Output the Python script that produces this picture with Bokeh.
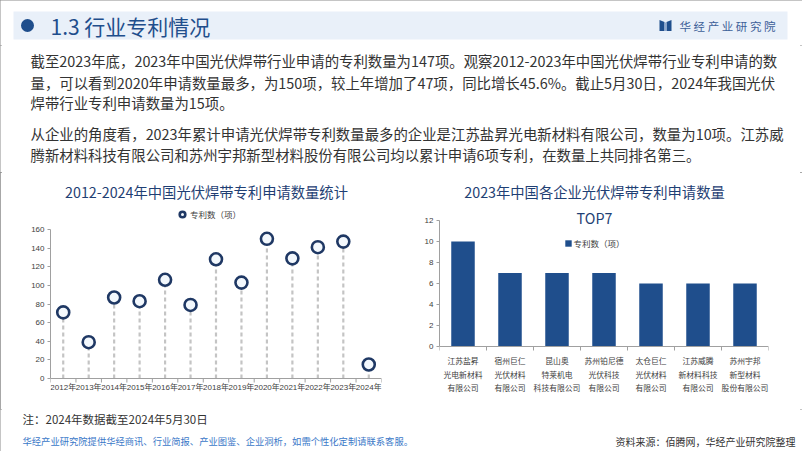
from bokeh.plotting import figure
from bokeh.models import Range1d, FactorRange, Label, Legend, LegendItem, FixedTicker
from bokeh.layouts import column, row
from bokeh.embed import file_html
from bokeh.resources import INLINE
from bokeh.core.properties import value

# ---------------- data ----------------
years = ["2012年", "2013年", "2014年", "2015年", "2016年", "2017年", "2018年",
         "2019年", "2020年", "2021年", "2022年", "2023年", "2024年"]
patents = [71, 39, 87, 83, 106, 79, 128, 103, 150, 129, 141, 147, 15]
year_ticks = [0, 20, 40, 60, 80, 100, 120, 140, 160]

companies = ["江苏盐昇光电新材料有限公司", "宿州巨仁光伏材料有限公司", "昆山奥特莱机电科技有限公司",
             "苏州铂尼德光伏科技有限公司", "太仓巨仁光伏材料有限公司", "江苏威腾新材料科技有限公司",
             "苏州宇邦新型材料股份有限公司"]
label_line1 = ["江苏盐昇", "宿州巨仁", "昆山奥", "苏州铂尼德", "太仓巨仁", "江苏威腾", "苏州宇邦"]
label_line2 = ["光电新材料", "光伏材料", "特莱机电", "光伏科技", "光伏材料", "新材料科技", "新型材料"]
label_line3 = ["有限公司", "有限公司", "科技有限公司", "有限公司", "有限公司", "有限公司", "股份有限公司"]
company_patents = [10, 7, 7, 7, 6, 6, 6]
company_ticks = [0, 2, 4, 6, 8, 10, 12]

header_title = "1.3 行业专利情况"
logo_text = "华 经 产 业 研 究 院"
paragraphs = [
    "截至2023年底，2023年中国光伏焊带行业申请的专利数量为147项。观察2012-2023年中国光伏焊带行业专利申请的数",
    "量，可以看到2020年申请数量最多，为150项，较上年增加了47项，同比增长45.6%。截止5月30日，2024年我国光伏",
    "焊带行业专利申请数量为15项。",
    "从企业的角度看，2023年累计申请光伏焊带专利数量最多的企业是江苏盐昇光电新材料有限公司，数量为10项。江苏威",
    "腾新材料科技有限公司和苏州宇邦新型材料股份有限公司均以累计申请6项专利，在数量上共同排名第三。",
]
left_title = "2012-2024年中国光伏焊带专利申请数量统计"
right_title_1 = "2023年中国各企业光伏焊带专利申请数量"
right_title_2 = "TOP7"
legend_label = "专利数（项）"
note_text = "注：2024年数据截至2024年5月30日"
footer_left = "华经产业研究院提供华经商讯、行业简报、产业图鉴、企业洞析，如需个性化定制请联系客服。"
footer_right = "资料来源：佰腾网，华经产业研究院整理"

CJK = "Noto Sans CJK SC"
NUM = "'Liberation Sans', 'Noto Sans CJK SC'"
BLUE = "#1f4e8c"
NAVY = "#1f3f74"
TXT = "#333333"
AXIS = "#a0a0a0"


def deco(x0, x1, y0, y1):
    f = figure(width=x1 - x0, height=y1 - y0, x_range=Range1d(x0, x1), y_range=Range1d(y1, y0),
               output_backend="svg", toolbar_location=None, x_axis_type=None, y_axis_type=None,
               min_border=0)
    f.grid.visible = False
    f.outline_line_color = None
    f.background_fill_color = "white"
    f.border_fill_color = "white"
    return f


def boundary_ticks(p, factors, k):
    # small category-boundary ticks below the axis line (like the original's category axis)
    xs = [(f, -0.5) for f in factors] + [(factors[-1], 0.5)]
    p.segment(x0=xs, y0=[0] * len(xs), x1=xs, y1=[-4 / k] * len(xs), line_color=AXIS, line_width=1)


# ---------------- header ----------------
hdr = deco(0, 802, 0, 45)
hdr.quad(left=[13], right=[787], top=[11], bottom=[39], fill_color="#e9f0f9", line_color=None)
hdr.circle(x=[27], y=[25], radius=6.5, fill_color=BLUE, line_color=None)
hdr.text(x=[50], y=[25], text=[header_title], text_font=value(CJK), text_font_size="21px",
         text_color=BLUE, text_baseline="middle", text_align="left")
hdr.patches(xs=[[659, 664, 664, 659], [666, 671, 671, 666]],
            ys=[[19.5, 21.5, 30.5, 30.5], [21.5, 19.5, 30.5, 30.5]],
            fill_color=BLUE, line_color=None)
hdr.quad(left=[664], right=[666], top=[22], bottom=[30.5], fill_color="#8fa9cf", line_color=None)
hdr.text(x=[679], y=[25.5], text=[logo_text], text_font=value(CJK), text_font_size="11.5px",
         text_color="#3d5f98", text_baseline="middle", text_align="left")

# ---------------- paragraphs ----------------
txt = deco(0, 802, 45, 172)
txt.text(x=[30] * 5, y=[60, 81.5, 101.5, 132.5, 153.5], text=paragraphs, text_font=value(CJK),
         text_font_size="14.4px", text_color=TXT, text_baseline="middle", text_align="left")

# ---------------- chart geometry (page pixels) ----------------
CH_TOP, CH_BOT = 172, 409
FB = 393                      # frame bottom (both charts, aligned)
L_ZERO, L_TOP, L_MAX = 378, 229, 160
R_ZERO, R_TOP, R_MAX = 346, 220, 12
lk = (L_ZERO - L_TOP) / L_MAX
rk = (R_ZERO - R_TOP) / R_MAX

# ---------------- left chart ----------------
lp = figure(width=405, height=CH_BOT - CH_TOP, x_range=FactorRange(*years),
            y_range=Range1d(-(FB - L_ZERO) / lk, (L_ZERO - CH_TOP) / lk),
            output_backend="svg", toolbar_location=None,
            min_border_left=50, min_border_right=24, min_border_top=0,
            min_border_bottom=CH_BOT - FB)
lp.grid.visible = False
lp.outline_line_color = None
lp.segment(x0=years, y0=[0] * len(years), x1=years, y1=patents, line_color="#c4c4c4",
           line_width=2.2, line_dash="4 3")
boundary_ticks(lp, years, lk)
sc = lp.scatter(x=years, y=patents, size=12, fill_color="#f3f8fd", line_color="#1f3864",
                line_width=2.6)
lp.yaxis.ticker = FixedTicker(ticks=year_ticks)
lp.yaxis.bounds = (0, L_MAX)
lp.xaxis.fixed_location = 0
for ax in (lp.xaxis, lp.yaxis):
    ax.axis_line_color = AXIS
    ax.major_tick_line_color = AXIS
    ax.minor_tick_line_color = None
    ax.major_label_text_font = NUM
    ax.major_label_text_font_size = "8px"
    ax.major_label_text_color = "#404040"
lp.yaxis.major_tick_out = 3
lp.yaxis.major_tick_in = 0
lp.yaxis.major_label_standoff = 3
lp.xaxis.major_tick_line_color = None
lp.xaxis.major_tick_out = 0
lp.xaxis.major_tick_in = 0
lp.xaxis.major_label_standoff = 4
lp.add_layout(Label(x=206 - 50, y=FB - 191, x_units="screen", y_units="screen", text=left_title,
                    text_font=CJK, text_font_size="14.3px", text_color=NAVY,
                    text_align="center", text_baseline="middle"))
leg_l = Legend(items=[LegendItem(label=legend_label, renderers=[sc])], location=(175 - 50, FB - 221),
               glyph_width=14, glyph_height=14, label_standoff=1, padding=0, margin=0,
               border_line_color=None, background_fill_alpha=0, label_text_font=CJK,
               label_text_font_size="8.5px", label_text_color="#404040", label_height=14)
lp.add_layout(leg_l)

# ---------------- right chart ----------------
rp = figure(width=397, height=CH_BOT - CH_TOP, x_range=FactorRange(*companies),
            y_range=Range1d(-(FB - R_ZERO) / rk, (R_ZERO - CH_TOP) / rk),
            output_backend="svg", toolbar_location=None,
            min_border_left=34, min_border_right=34, min_border_top=0,
            min_border_bottom=CH_BOT - FB)
rp.grid.visible = False
rp.outline_line_color = None
bars = rp.vbar(x=companies, top=company_patents, width=0.5, fill_color=BLUE, line_color=None)
boundary_ticks(rp, companies, rk)
rp.yaxis.ticker = FixedTicker(ticks=company_ticks)
rp.yaxis.bounds = (0, R_MAX)
rp.xaxis.fixed_location = 0
for ax in (rp.xaxis, rp.yaxis):
    ax.axis_line_color = AXIS
    ax.major_tick_line_color = AXIS
    ax.minor_tick_line_color = None
    ax.major_label_text_font = NUM
    ax.major_label_text_font_size = "8px"
    ax.major_label_text_color = "#404040"
rp.yaxis.major_tick_out = 3
rp.yaxis.major_tick_in = 0
rp.yaxis.major_label_standoff = 3
rp.xaxis.major_tick_line_color = None
rp.xaxis.major_tick_out = 0
rp.xaxis.major_tick_in = 0
rp.xaxis.major_label_standoff = 0
rp.xaxis.major_label_text_color = None   # company names are drawn below as 3-line labels
for lines, off in ((label_line1, 14), (label_line2, 27.5), (label_line3, 41)):
    rp.text(x=companies, y=[0] * len(companies), text=lines, y_offset=off,
            text_font=value(CJK), text_font_size="7.8px", text_color="#404040",
            text_align="center", text_baseline="middle")
rp.add_layout(Label(x=594 - 439, y=FB - 191, x_units="screen", y_units="screen", text=right_title_1,
                    text_font=CJK, text_font_size="14.3px", text_color=NAVY,
                    text_align="center", text_baseline="middle"))
rp.add_layout(Label(x=594 - 439, y=FB - 217, x_units="screen", y_units="screen", text=right_title_2,
                    text_font=CJK, text_font_size="14.3px", text_color=NAVY,
                    text_align="center", text_baseline="middle"))
leg_r = Legend(items=[LegendItem(label=legend_label, renderers=[bars])], location=(563.5 - 439, FB - 248.5),
               glyph_width=8, glyph_height=8, label_standoff=2, padding=0, margin=0,
               border_line_color=None, background_fill_alpha=0, label_text_font=CJK,
               label_text_font_size="8.5px", label_text_color="#404040", label_height=11)
rp.add_layout(leg_r)

# ---------------- footer ----------------
ftr = deco(0, 802, CH_BOT, 451)
ftr.text(x=[22], y=[418.5], text=[note_text], text_font=value(CJK), text_font_size="11.5px",
         text_color=TXT, text_baseline="middle", text_align="left")
ftr.text(x=[22], y=[440], text=[footer_left], text_font=value(CJK), text_font_size="9.3px",
         text_color="#3a78c8", text_baseline="middle", text_align="left")
ftr.text(x=[795], y=[440.5], text=[footer_right], text_font=value(CJK), text_font_size="10px",
         text_color=TXT, text_baseline="middle", text_align="right")

layout = column(hdr, txt, row(lp, rp, spacing=0), ftr, spacing=0,
                styles={"outline": "2px solid #8a8a8a", "outline-offset": "-2px"})
open("out.html", "w").write(file_html(layout, INLINE))
